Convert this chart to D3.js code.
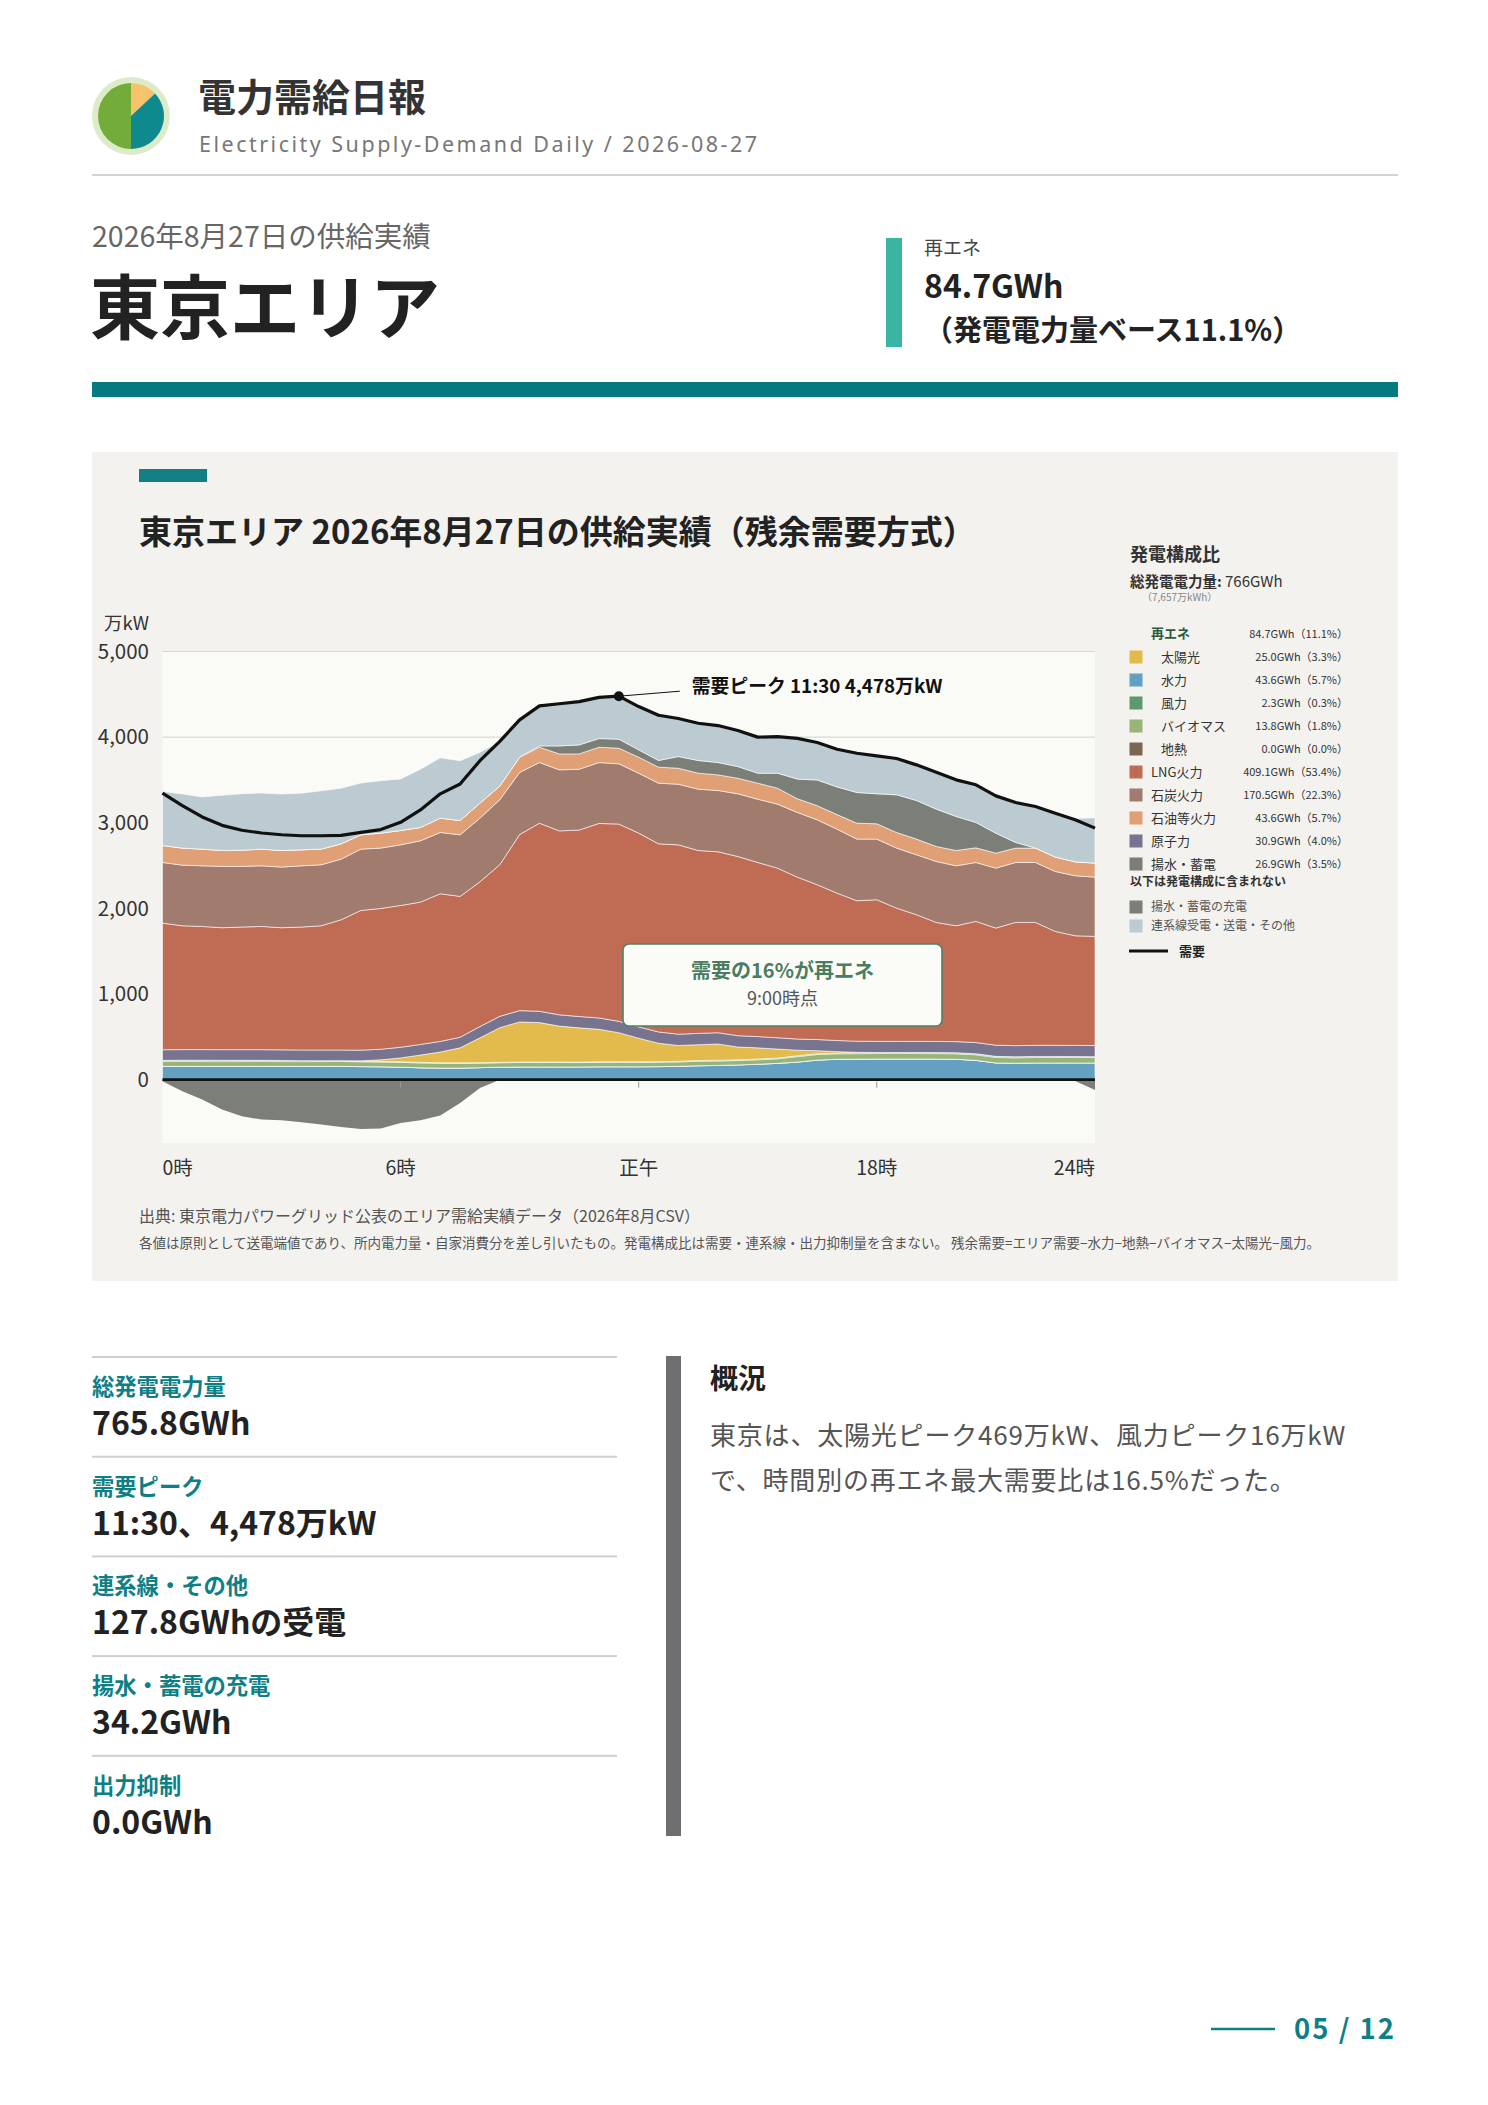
<!DOCTYPE html>
<html lang="ja">
<head>
<meta charset="utf-8">
<script src="https://cdn.jsdelivr.net/npm/d3@7"></script>
<style>
  body { margin: 0; background: #fff; }
  svg text { font-family: "Noto Sans CJK JP", "Noto Sans", sans-serif; }
</style>
</head>
<body>
<svg id="page" width="1488" height="2105"></svg>
<script>
// half-hour slots, 万kW
const slots = ["0:00","0:30","1:00","1:30","2:00","2:30","3:00","3:30","4:00","4:30","5:00","5:30",
  "6:00","6:30","7:00","7:30","8:00","8:30","9:00","9:30","10:00","10:30","11:00","11:30",
  "12:00","12:30","13:00","13:30","14:00","14:30","15:00","15:30","16:00","16:30","17:00","17:30",
  "18:00","18:30","19:00","19:30","20:00","20:30","21:00","21:30","22:00","22:30","23:00","23:30"];

const demand = [3345,3201,3068,2970,2912,2880,2860,2848,2848,2852,2888,2920,3005,3150,3338,3452,3725,3950,4202,4365,4390,4415,4465,4478,
  4357,4256,4217,4162,4135,4077,4000,4005,3985,3937,3859,3812,3781,3750,3676,3590,3501,3443,3314,3236,3190,3112,3034,2937];
const hydro = [155,155,155,155,155,155,155,155,155,155,152,150,146,138,135,135,140,146,148,148,148,148,150,150,
  150,152,155,162,166,172,180,190,205,228,238,240,241,241,241,241,238,225,195,192,195,195,195,195];
const geothermal = [0,0,0,0,0,0,0,0,0,0,0,0,0,0,0,0,0,0,0,0,0,0,0,0,0,0,0,0,0,0,0,0,0,0,0,0,0,0,0,0,0,0,0,0,0,0,0,0];
const biomass = [56,57,56,55,56,57,56,55,56,57,56,55,56,57,56,55,52,51,52,53,52,51,52,53,
  52,51,52,53,52,51,52,53,64,65,64,63,64,65,64,63,64,65,64,63,64,65,64,63];
const wind = [14,15,16,16,15,14,13,12,11,10,9,8,7,7,6,6,6,5,5,5,5,6,6,6,
  7,7,7,8,8,8,9,9,10,10,10,11,11,11,12,12,12,13,13,12,12,11,11,10];
const solar = [0,0,0,0,0,0,0,0,0,0,3,18,45,85,125,175,290,405,469,460,420,400,380,340,
  275,215,185,185,190,150,130,105,65,35,15,5,1,0,0,0,0,0,0,0,0,0,0,0];
const nuclear = [124,124,124,124,124,124,124,124,124,124,124,124,124,124,124,124,132,132,132,132,132,132,132,132,
  132,132,132,132,132,132,132,132,130,130,130,130,130,130,130,130,130,130,130,130,130,130,130,130];
const lng = [1479,1446,1438,1424,1432,1439,1426,1436,1451,1521,1632,1644,1656,1662,1725,1645,1690,1771,2056,2197,2148,2178,2272,2304,
  2263,2197,2211,2136,2113,2093,2033,1981,1891,1808,1721,1640,1654,1556,1479,1390,1353,1415,1368,1439,1435,1330,1280,1275];
const coal = [708,708,708,716,708,708,708,715,712,708,716,705,708,716,715,719,744,758,725,708,713,710,711,703,
  700,708,708,716,716,732,739,747,755,758,747,720,708,701,700,712,700,688,700,700,700,700,701,692];
const oil = [199,199,195,186,190,195,194,187,183,179,167,175,168,156,168,167,175,160,179,179,186,179,179,183,
  187,187,187,187,182,182,187,187,160,165,170,186,179,182,183,175,179,171,175,168,168,168,163,164];
const pumpGen = [0,0,0,0,0,0,0,0,0,0,0,0,0,0,0,0,0,0,0,15,93,105,101,105,
  86,78,136,148,144,136,117,175,230,300,323,358,350,440,451,436,397,296,233,66,0,0,0,0];
const imports = [630,633,609,644,660,655,659,662,681,650,605,613,601,680,704,698,593,522,436,468,493,506,482,502,
  505,529,444,435,432,421,421,426,475,438,441,459,443,424,416,431,428,440,436,466,486,513,505,528];
const pumpCharge = [-20,-136,-233,-350,-428,-467,-475,-498,-525,-552,-576,-572,-506,-475,-420,-272,-97,0,0,0,0,0,0,0,
  0,0,0,0,0,0,0,0,0,0,0,0,0,0,0,0,0,0,0,0,0,0,-15,-120];

const yTicks = [0, 1000, 2000, 3000, 4000, 5000];
const xTickLabels = ["0時", "6時", "正午", "18時", "24時"];
const xTickSlots = ["0:00", "6:00", "12:00", "18:00", "23:30"];

// legend table
const mixLabels = ["太陽光", "水力", "風力", "バイオマス", "地熱", "LNG火力", "石炭火力", "石油等火力", "原子力", "揚水・蓄電"];
const mixGWh = [25.0, 43.6, 2.3, 13.8, 0.0, 409.1, 170.5, 43.6, 30.9, 26.9];
const mixShare = [3.3, 5.7, 0.3, 1.8, 0.0, 53.4, 22.3, 5.7, 4.0, 3.5];
const mixKeys = ["solar", "hydro", "wind", "biomass", "geothermal", "lng", "coal", "oil", "nuclear", "pumpGen"];
const renewGWh = 84.7, renewShare = 11.1;
const logoShares = [0.13, 0.37, 0.50];

const colors = {
  hydro: "#63a0c2", geothermal: "#7e6752", biomass: "#98b478", wind: "#5b9a6c", solar: "#e3bb4c",
  nuclear: "#78738f", lng: "#c06c54", coal: "#a07b6e", oil: "#e09f75", pumpGen: "#7c7f77",
  imports: "#bccbd1", pumpCharge: "#7c7f77"
};
const posKeys = ["hydro","geothermal","biomass","wind","solar","nuclear","lng","coal","oil","pumpGen","imports"];
const seriesData = {hydro, geothermal, biomass, wind, solar, nuclear, lng, coal, oil, pumpGen, imports};

const W = 1398; // content right edge
const svg = d3.select("#page");
svg.append("rect").attr("width", 1488).attr("height", 2105).attr("fill", "#fff");

// ---- header ----
const logo = svg.append("g").attr("transform", "translate(131,116)");
logo.append("circle").attr("r", 39).attr("fill", "#dcebca");
const pie = d3.pie().sort(null).value(d => d);
const arc = d3.arc().innerRadius(0).outerRadius(33);
logo.selectAll("path").data(pie(logoShares)).join("path")
  .attr("d", arc).attr("fill", (d, i) => ["#f6c36c", "#0e898d", "#74ac3a"][i]);

svg.append("text").attr("x", 198).attr("y", 111).text("電力需給日報")
  .attr("font-size", 38).attr("font-weight", 700).attr("fill", "#333");
svg.append("text").attr("x", 199).attr("y", 152).text("Electricity Supply-Demand Daily / 2026-08-27")
  .attr("font-size", 21.5).attr("fill", "#777").attr("letter-spacing", 2.5)
  .style("font-family", "'Noto Sans', sans-serif");
svg.append("rect").attr("x", 92).attr("y", 174).attr("width", W - 92).attr("height", 2).attr("fill", "#d4d4d4");

svg.append("text").attr("x", 92).attr("y", 247).text("2026年8月27日の供給実績")
  .attr("font-size", 28.5).attr("fill", "#666");
svg.append("text").attr("x", 90).attr("y", 334).text("東京エリア")
  .attr("font-size", 70).attr("font-weight", 700).attr("fill", "#222");

svg.append("rect").attr("x", 886).attr("y", 238).attr("width", 16).attr("height", 109).attr("fill", "#3ab5a2");
svg.append("text").attr("x", 924).attr("y", 255).text("再エネ").attr("font-size", 19).attr("fill", "#444");
svg.append("text").attr("x", 924).attr("y", 298).text(renewGWh.toFixed(1) + "GWh")
  .attr("font-size", 32).attr("font-weight", 700).attr("fill", "#222");
svg.append("text").attr("x", 924).attr("y", 341).text("（発電電力量ベース" + renewShare.toFixed(1) + "%）")
  .attr("font-size", 29).attr("font-weight", 700).attr("fill", "#222");

svg.append("rect").attr("x", 92).attr("y", 382).attr("width", W - 92).attr("height", 15).attr("fill", "#067a81");

// ---- chart panel ----
svg.append("rect").attr("x", 92).attr("y", 452).attr("width", W - 92).attr("height", 829).attr("fill", "#f3f2ef");
svg.append("rect").attr("x", 139).attr("y", 469).attr("width", 68).attr("height", 13).attr("fill", "#127f86");
svg.append("text").attr("x", 139).attr("y", 544).text("東京エリア 2026年8月27日の供給実績（残余需要方式）")
  .attr("font-size", 33).attr("font-weight", 700).attr("fill", "#222");

const x = d3.scalePoint().domain(slots).range([162.5, 1095]);
const y = d3.scaleLinear().domain([-740, 5000]).range([1143, 651.5]);
const [px0, px1] = x.range();

svg.append("rect").attr("x", px0).attr("y", y(5000)).attr("width", px1 - px0).attr("height", y(-740) - y(5000))
  .attr("fill", "#fafaf6");

// grid
svg.append("g").selectAll("line").data(yTicks.filter(d => d > 0)).join("line")
  .attr("x1", px0).attr("x2", px1).attr("y1", d => y(d)).attr("y2", d => y(d))
  .attr("stroke", "#d9d9d5").attr("stroke-width", 1.2);

const rows = slots.map((s, i) => {
  const r = {slot: s};
  posKeys.forEach(k => r[k] = seriesData[k][i]);
  return r;
});
const stacked = d3.stack().keys(posKeys)(rows);
const area = d3.area().x(d => x(d.data.slot)).y0(d => y(d[0])).y1(d => y(d[1]));

svg.append("g").selectAll("path").data(stacked).join("path")
  .attr("d", area).attr("fill", d => colors[d.key])
  .attr("stroke", "#ffffff").attr("stroke-opacity", 0.65).attr("stroke-width", 0.9);

// charging (below zero)
const chargeArea = d3.area().x((d, i) => x(slots[i])).y0(y(0)).y1(d => y(d));
svg.append("path").datum(pumpCharge).attr("d", chargeArea).attr("fill", colors.pumpCharge);

// zero line + ticks
svg.append("line").attr("x1", px0).attr("x2", px1).attr("y1", y(0)).attr("y2", y(0))
  .attr("stroke", "#111").attr("stroke-width", 2.6);
svg.append("g").selectAll("line").data(xTickSlots.slice(1, 4)).join("line")
  .attr("x1", d => x(d)).attr("x2", d => x(d)).attr("y1", y(0) + 2).attr("y2", y(0) + 8)
  .attr("stroke", "#999").attr("stroke-width", 1);

// demand line
const line = d3.line().x((d, i) => x(slots[i])).y(d => y(d));
svg.append("path").datum(demand).attr("d", line).attr("fill", "none")
  .attr("stroke", "#111").attr("stroke-width", 3.2).attr("stroke-linejoin", "round");

// y axis labels
svg.append("g").selectAll("text").data(yTicks).join("text")
  .attr("x", 149).attr("y", d => y(d)).attr("dy", "0.35em").attr("text-anchor", "end")
  .attr("font-size", 20.5).attr("fill", "#333").text(d3.format(","));
svg.append("text").attr("x", 149).attr("y", 630).attr("text-anchor", "end").text("万kW")
  .attr("font-size", 18.5).attr("fill", "#333");

// x labels
svg.append("g").selectAll("text").data(xTickLabels).join("text")
  .attr("x", (d, i) => x(xTickSlots[i])).attr("y", 1175)
  .attr("text-anchor", (d, i) => i === 0 ? "start" : (i === 4 ? "end" : "middle"))
  .attr("font-size", 19.5).attr("fill", "#333").text(d => d);

// peak annotation
const pk = d3.maxIndex(demand);
const pkx = x(slots[pk]), pky = y(demand[pk]);
svg.append("line").attr("x1", pkx).attr("y1", pky).attr("x2", pkx + 61).attr("y2", pky - 5)
  .attr("stroke", "#111").attr("stroke-width", 1);
svg.append("circle").attr("cx", pkx).attr("cy", pky).attr("r", 5).attr("fill", "#111");
svg.append("text").attr("x", pkx + 73).attr("y", pky - 3)
  .text("需要ピーク " + slots[pk] + " " + d3.format(",")(demand[pk]) + "万kW")
  .attr("font-size", 18.8).attr("font-weight", 700).attr("fill", "#111");

// callout (9:00 renewable share of demand)
const ci = slots.indexOf("9:00");
const renewAt = hydro[ci] + geothermal[ci] + biomass[ci] + wind[ci] + solar[ci];
const share = Math.round(renewAt / demand[ci] * 100);
const bx0 = 623, bx1 = 942, by0 = 944, by1 = 1026;
svg.append("rect").attr("x", bx0).attr("y", by0).attr("width", bx1 - bx0).attr("height", by1 - by0)
  .attr("rx", 6).attr("fill", "#fbfbf8").attr("stroke", "#4d8264").attr("stroke-width", 1.6);
svg.append("text").attr("x", (bx0 + bx1) / 2).attr("y", 978).attr("text-anchor", "middle")
  .text("需要の" + share + "%が再エネ").attr("font-size", 20).attr("font-weight", 700).attr("fill", "#4a7d60");
svg.append("text").attr("x", (bx0 + bx1) / 2).attr("y", 1005).attr("text-anchor", "middle")
  .text(slots[ci] + "時点").attr("font-size", 18).attr("fill", "#555");

// legend
const lg = svg.append("g");
lg.append("text").attr("x", 1130).attr("y", 561).text("発電構成比").attr("font-size", 18).attr("font-weight", 700).attr("fill", "#333");
const tot = lg.append("text").attr("x", 1130).attr("y", 587).attr("font-size", 14.5).attr("fill", "#333");
tot.append("tspan").attr("font-weight", 700).text("総発電電力量: ");
tot.append("tspan").attr("font-size", 15).text("766GWh");
lg.append("text").attr("x", 1142).attr("y", 601).text("（7,657万kWh）").attr("font-size", 10).attr("fill", "#888");

const fmtRow = (g, s) => g.toFixed(1) + "GWh（" + s.toFixed(1) + "%）";
const vx = 1348;
lg.append("text").attr("x", 1151).attr("y", 637.5).text("再エネ").attr("font-size", 13).attr("font-weight", 700).attr("fill", "#2d5a3e");
lg.append("text").attr("x", vx).attr("y", 637.5).attr("text-anchor", "end").text(fmtRow(renewGWh, renewShare))
  .attr("font-size", 11).attr("fill", "#333");
const rowY = i => 657 + i * 23;
mixLabels.forEach((lab, i) => {
  const sub = i < 5;
  lg.append("rect").attr("x", 1129.5).attr("y", rowY(i) - 6.5).attr("width", 13).attr("height", 13).attr("fill", colors[mixKeys[i]]);
  lg.append("text").attr("x", sub ? 1161 : 1151).attr("y", rowY(i)).attr("dy", "0.36em").text(lab)
    .attr("font-size", 13).attr("fill", "#333");
  lg.append("text").attr("x", vx).attr("y", rowY(i)).attr("dy", "0.36em").attr("text-anchor", "end")
    .text(fmtRow(mixGWh[i], mixShare[i])).attr("font-size", 11).attr("fill", "#333");
});
lg.append("text").attr("x", 1130).attr("y", 886).text("以下は発電構成に含まれない").attr("font-size", 12).attr("font-weight", 700).attr("fill", "#333");
[["揚水・蓄電の充電", "pumpCharge", 907], ["連系線受電・送電・その他", "imports", 926]].forEach(([lab, k, yy]) => {
  lg.append("rect").attr("x", 1129.5).attr("y", yy - 6.5).attr("width", 13).attr("height", 13).attr("fill", colors[k]);
  lg.append("text").attr("x", 1151).attr("y", yy).attr("dy", "0.36em").text(lab).attr("font-size", 12).attr("fill", "#555");
});
lg.append("line").attr("x1", 1129).attr("x2", 1168).attr("y1", 951).attr("y2", 951).attr("stroke", "#111").attr("stroke-width", 3);
lg.append("text").attr("x", 1179).attr("y", 951).attr("dy", "0.36em").text("需要").attr("font-size", 13).attr("font-weight", 700).attr("fill", "#222");

// notes
svg.append("text").attr("x", 139).attr("y", 1222).text("出典: 東京電力パワーグリッド公表のエリア需給実績データ（2026年8月CSV）")
  .attr("font-size", 16).attr("fill", "#555");
svg.append("text").attr("x", 139).attr("y", 1248)
  .text("各値は原則として送電端値であり、所内電力量・自家消費分を差し引いたもの。発電構成比は需要・連系線・出力抑制量を含まない。 残余需要=エリア需要−水力−地熱−バイオマス−太陽光−風力。")
  .attr("font-size", 13.5).attr("fill", "#555");

// ---- stats ----
const statLabels = ["総発電電力量", "需要ピーク", "連系線・その他", "揚水・蓄電の充電", "出力抑制"];
const statValues = ["765.8GWh", "11:30、4,478万kW", "127.8GWhの受電", "34.2GWh", "0.0GWh"];
const st = svg.append("g");
statLabels.forEach((lab, i) => {
  const top = 1357 + i * 99.7;
  st.append("rect").attr("x", 92).attr("y", top - 1).attr("width", 525).attr("height", 2).attr("fill", "#cfcfcf");
  st.append("text").attr("x", 92).attr("y", top + 38).text(lab).attr("font-size", 22.3).attr("font-weight", 700).attr("fill", "#0f7f86");
  st.append("text").attr("x", 92).attr("y", top + 78).text(statValues[i]).attr("font-size", 32).attr("font-weight", 700).attr("fill", "#222");
});

svg.append("rect").attr("x", 666).attr("y", 1356).attr("width", 15).attr("height", 480).attr("fill", "#6e6e71");
svg.append("text").attr("x", 710).attr("y", 1389).text("概況").attr("font-size", 28).attr("font-weight", 700).attr("fill", "#222");
["東京は、太陽光ピーク469万kW、風力ピーク16万kW", "で、時間別の再エネ最大需要比は16.5%だった。"].forEach((t, i) => {
  svg.append("text").attr("x", 710).attr("y", 1445 + i * 45).text(t)
    .attr("font-size", 26).attr("letter-spacing", 0.8).attr("fill", "#555");
});

// page number
svg.append("line").attr("x1", 1211).attr("x2", 1275).attr("y1", 2029).attr("y2", 2029).attr("stroke", "#0f7f86").attr("stroke-width", 2.5);
svg.append("text").attr("x", 1396).attr("y", 2039).attr("text-anchor", "end").text("05 / 12")
  .attr("font-size", 27.5).attr("font-weight", 700).attr("letter-spacing", 2).attr("fill", "#0f7f86");
</script>
</body>
</html>
